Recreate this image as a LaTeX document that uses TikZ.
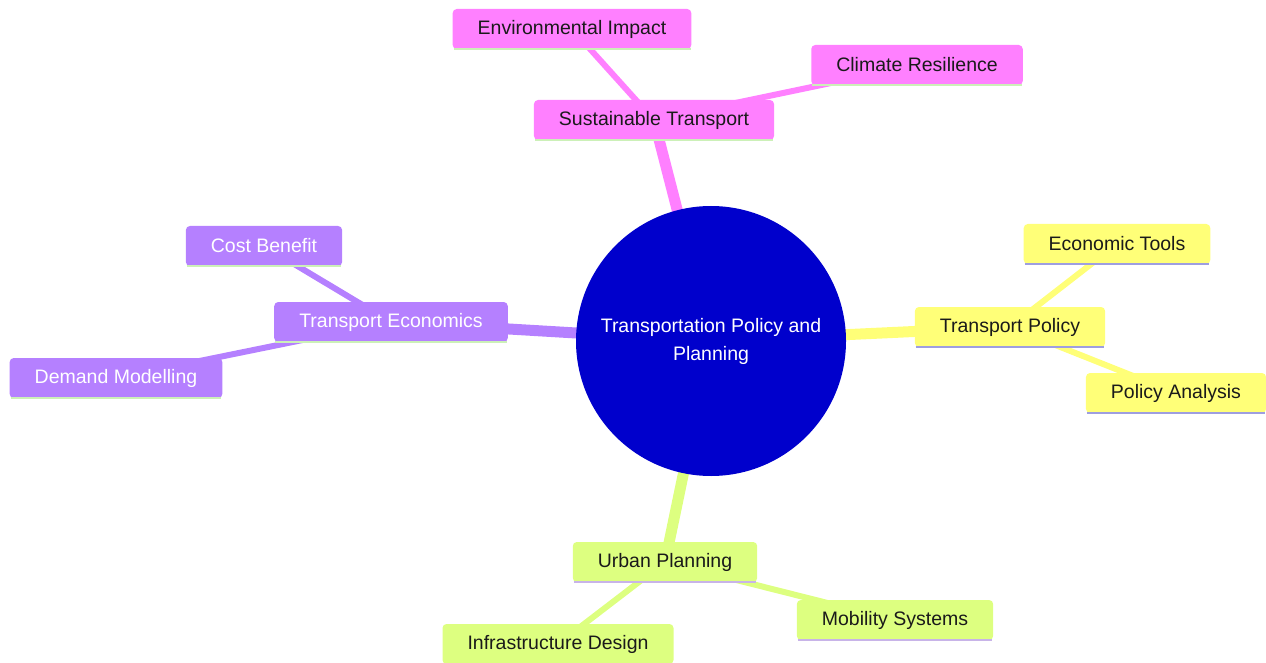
\documentclass[tikz,border=0pt]{standalone}
\usepackage{fontspec}
\setmainfont{Liberation Sans}
\usetikzlibrary{backgrounds}
\definecolor{cblue}{HTML}{0000CC}
\definecolor{cpink}{HTML}{FF80FF}
\definecolor{cpurple}{HTML}{B580FF}
\definecolor{cyellow}{HTML}{FFFF78}
\definecolor{cgreen}{HTML}{DDFF80}
\definecolor{lgreen}{HTML}{CCF0B8}
\definecolor{lblue}{HTML}{9E9EE0}
\definecolor{lviolet}{HTML}{C8B4E8}
\definecolor{darktxt}{HTML}{1A1A1A}
\tikzset{
  box/.style={rectangle, rounded corners=4pt, inner xsep=25pt, inner ysep=0pt,
    minimum height=40pt, font=\fontsize{19.5}{23}\selectfont},
  pinkbox/.style={box, fill=cpink, text=darktxt},
  purplebox/.style={box, fill=cpurple, text=white},
  yellowbox/.style={box, fill=cyellow, text=darktxt},
  greenbox/.style={box, fill=cgreen, text=darktxt},
  main/.style={line width=11pt},
  sub/.style={line width=6pt},
  uline/.style={line width=2.5pt},
}
\begin{document}
\begin{tikzpicture}[x=1pt,y=-1pt]
\useasboundingbox (0,0) rectangle (1266,663);
\node[circle, fill=cblue, minimum size=270pt, inner sep=0pt, text=white,
  align=center, font=\fontsize{19.5}{28}\selectfont] (c) at (711,341)
  {Transportation Policy and\\Planning};
\node[pinkbox] (st) at (654,120) {Sustainable Transport};
\node[pinkbox] (ei) at (572,29) {Environmental Impact};
\node[pinkbox] (cr) at (917,65) {Climate Resilience};
\node[purplebox] (te) at (391,322) {Transport Economics};
\node[purplebox] (cb) at (264,246) {Cost Benefit};
\node[purplebox] (dm) at (116,378) {Demand Modelling};
\node[yellowbox] (tp) at (1010,327) {Transport Policy};
\node[yellowbox] (et) at (1117,244) {Economic Tools};
\node[yellowbox] (pa) at (1176,393) {Policy Analysis};
\node[greenbox] (up) at (665,562) {Urban Planning};
\node[greenbox] (id) at (558,644) {Infrastructure Design};
\node[greenbox] (ms) at (895,620) {Mobility Systems};
\foreach \n/\col in {st/lgreen,ei/lgreen,cr/lgreen,te/lgreen,cb/lgreen,dm/lgreen,
  tp/lblue,et/lblue,pa/lblue,up/lviolet,id/lviolet,ms/lviolet}{
  \draw[uline,\col] ([xshift=1pt]\n.south west) -- ([xshift=-1pt]\n.south east);
}
\begin{scope}[on background layer]
\draw[main,cpink] (c.center) -- (st.center);
\draw[sub,cpink] (st.center) -- (ei.center);
\draw[sub,cpink] (st.center) -- (cr.center);
\draw[main,cpurple] (c.center) -- (te.center);
\draw[sub,cpurple] (te.center) -- (cb.center);
\draw[sub,cpurple] (te.center) -- (dm.center);
\draw[main,cyellow] (c.center) -- (tp.center);
\draw[sub,cyellow] (tp.center) -- (et.center);
\draw[sub,cyellow] (tp.center) -- (pa.center);
\draw[main,cgreen] (c.center) -- (up.center);
\draw[sub,cgreen] (up.center) -- (id.center);
\draw[sub,cgreen] (up.center) -- (ms.center);
\end{scope}
\end{tikzpicture}
\end{document}
